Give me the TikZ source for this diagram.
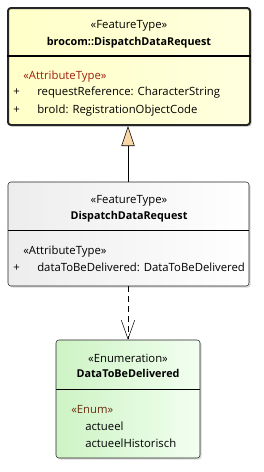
\documentclass[tikz,border=0pt]{standalone}
\usepackage{fontspec}
\setmainfont{Open Sans}
\usetikzlibrary{positioning,fit,shadows,arrows.meta}
\definecolor{baseFill}{HTML}{FFFFC8}
\definecolor{subFill}{HTML}{EDEDED}
\definecolor{enumFill}{HTML}{CDF3C4}
\definecolor{enumFillR}{HTML}{F2FFF0}
\definecolor{triFill}{HTML}{F8D6A8}
\definecolor{stRed}{HTML}{A02010}
\definecolor{stBrown}{HTML}{6A3010}

\begin{document}
\begin{tikzpicture}[x=0.75pt,y=-0.75pt,font=\fontsize{8.5}{10}\selectfont,
  cls/.style n args={2}{draw=black!85,rounded corners=2.2pt,inner sep=0pt,left color=#1,right color=#2,
    drop shadow={shadow xshift=1.2pt,shadow yshift=-1.2pt,opacity=0.25,fill=black!60}},
  stereo/.style={inner sep=0pt,anchor=base},
  title/.style={inner sep=0pt,anchor=base,font=\fontsize{8.1}{10}\selectfont\bfseries},
  attr/.style={inner sep=0pt,anchor=base west},
  gen/.style={draw=black,-{Triangle[length=15pt,width=10pt,fill=triFill]}},
  dep/.style={draw=black,dash pattern=on 4.5pt off 3pt,-{Straight Barb[length=14pt,width=10pt]}}]
\useasboundingbox (0,0) rectangle (264,472);

% classes
\node[cls={baseFill}{baseFill!60},line width=1.5pt,fit={(8,8) (250,125)}] (base) {};
\node[cls={subFill}{white},fit={(8,182) (249,286)}] (sub) {};
\node[cls={enumFill}{enumFillR},fit={(56,340) (200,458)}] (enum) {};

% compartments
\draw[line width=1.2pt] (base.west |- 0,56) -- (base.east |- 0,56);
\draw (sub.west |- 0,230) -- (sub.east |- 0,230);
\draw (enum.west |- 0,389) -- (enum.east |- 0,389);

% base class
\node[stereo] (baseSt) at (129,28) {«FeatureType»};
\node[title] (baseName) at (129,45) {brocom::DispatchDataRequest};
\node[attr,text=stRed] (baseAt) at (23,79) {«AttributeType»};
\foreach \y/\txt [count=\i] in {95/requestReference: CharacterString,113/broId: RegistrationObjectCode} {
  \node[attr] (basePlus\i) at (13,\y) {+};
  \node[attr] (baseAttr\i) at (37,\y) {\txt};
}

% sub class
\node[stereo] (subSt) at (129,203) {«FeatureType»};
\node[title] (subName) at (129,219) {DispatchDataRequest};
\node[attr] (subAt) at (23,254) {«AttributeType»};
\node[attr] (subPlus) at (13,271) {+};
\node[attr] (subAttr) at (37,271) {dataToBeDelivered: DataToBeDelivered};

% enumeration
\node[stereo] (enumSt) at (128,362) {«Enumeration»};
\node[title] (enumName) at (128,377) {DataToBeDelivered};
\node[attr,text=stBrown] (enumAt) at (71,413) {«Enum»};
\foreach \y/\txt [count=\i] in {430/actueel,447/actueelHistorisch} {
  \node[attr] (enumLit\i) at (85,\y) {\txt};
}

% connectors
\draw[gen] (sub.north -| 128,0) -- (base.south -| 128,0);
\draw[dep] (sub.south -| 128,0) -- (enum.north -| 128,0);
\end{tikzpicture}
\end{document}
